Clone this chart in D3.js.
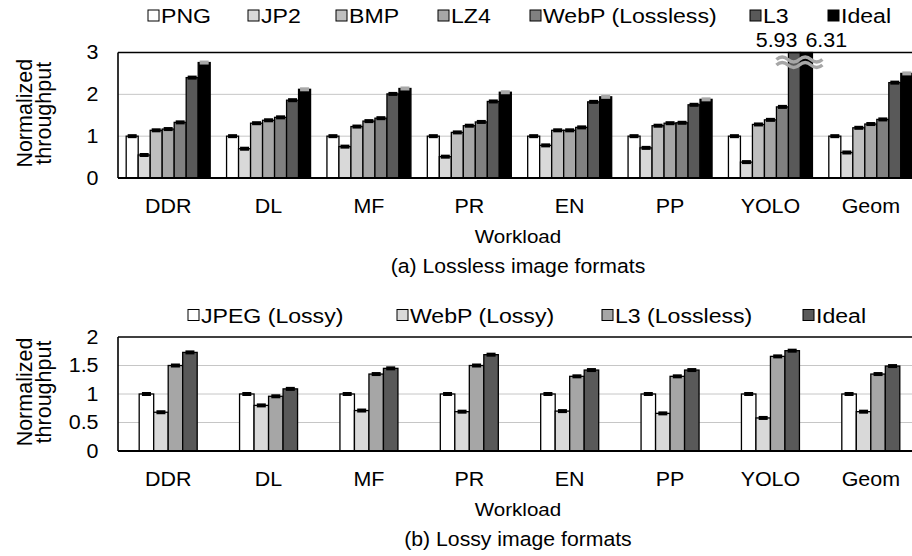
<!DOCTYPE html>
<html>
<head>
<meta charset="utf-8">
<script src="https://cdn.jsdelivr.net/npm/d3@7"></script>
<style>
  body { margin: 0; background: #fff; }
  text { font-family: 'Liberation Sans', Arial, sans-serif; fill: #000; }
</style>
</head>
<body>
<div id="chart"></div>
<script>
'use strict'

const W = 912
const H = 556
const STRETCH = 1.1 // the source figure is a bit wider than tall

// ---- data ----
const workloads = ['DDR', 'DL', 'MF', 'PR', 'EN', 'PP', 'YOLO', 'Geom']

const losslessNames = ['PNG', 'JP2', 'BMP', 'LZ4', 'WebP (Lossless)', 'L3', 'Ideal']
const pngValues = [1, 1, 1, 1, 1, 1, 1, 1]
const jp2Values = [0.55, 0.70, 0.75, 0.51, 0.78, 0.72, 0.38, 0.61]
const bmpValues = [1.14, 1.31, 1.23, 1.09, 1.14, 1.25, 1.28, 1.20]
const lz4Values = [1.17, 1.38, 1.36, 1.25, 1.14, 1.31, 1.39, 1.29]
const webpLosslessValues = [1.33, 1.45, 1.43, 1.34, 1.21, 1.32, 1.70, 1.40]
const l3Values = [2.40, 1.86, 2.01, 1.83, 1.82, 1.75, 5.93, 2.28]
const idealValues = [2.76, 2.12, 2.14, 2.05, 1.94, 1.88, 6.31, 2.50]
const losslessTicks = [0, 1, 2, 3]

const lossyNames = ['JPEG (Lossy)', 'WebP (Lossy)', 'L3 (Lossless)', 'Ideal']
const jpegValues = [1, 1, 1, 1, 1, 1, 1, 1]
const webpLossyValues = [0.68, 0.80, 0.71, 0.69, 0.70, 0.66, 0.58, 0.69]
const l3LosslessValues = [1.50, 0.96, 1.35, 1.50, 1.31, 1.31, 1.66, 1.35]
const idealLossyValues = [1.73, 1.09, 1.45, 1.69, 1.42, 1.42, 1.76, 1.49]
const lossyTicks = [0, 0.5, 1, 1.5, 2]

const losslessColors = ['#ffffff', '#d9d9d9', '#bfbfbf', '#a6a6a6', '#808080', '#595959', '#000000']
const lossyColors = ['#ffffff', '#d9d9d9', '#a6a6a6', '#595959']

const svg = d3.select('#chart')
  .append('svg')
  .attr('width', W)
  .attr('height', H)

function stretched (sel, x, y) {
  return sel.attr('transform', `translate(${x},${y}) scale(${STRETCH},1)`)
}

function drawPanel (p) {
  const left = 118
  const x0 = d3.scaleBand().domain(workloads).range([left, 921])
  const x1 = d3.scaleBand().domain(p.names).range([0, p.groupWidth])
  const y = d3.scaleLinear().domain([0, p.yMax]).range([p.bottom, p.top]).clamp(true)
  const g = svg.append('g')

  // gridlines
  g.selectAll('line.grid')
    .data(p.ticks.filter((t) => t > 0 && t < p.yMax))
    .join('line')
    .attr('x1', left)
    .attr('x2', W)
    .attr('y1', (d) => y(d))
    .attr('y2', (d) => y(d))
    .attr('stroke', '#c6c6c6')
    .attr('stroke-width', 1)

  const offset = (x0.bandwidth() - p.groupWidth) / 2
  const groups = g.selectAll('g.grp')
    .data(workloads)
    .join('g')
    .attr('transform', (d) => `translate(${x0(d) + offset},0)`)

  const rows = (w, i) => p.names.map((n, k) => ({ name: n, value: p.values[k][i], k: k, workload: w }))

  groups.selectAll('rect.bar')
    .data(rows)
    .join('rect')
    .attr('class', 'bar')
    .attr('x', (d) => x1(d.name))
    .attr('y', (d) => y(d.value))
    .attr('width', x1.bandwidth())
    .attr('height', (d) => p.bottom - y(d.value))
    .attr('fill', (d) => p.colors[d.k])
    .attr('stroke', '#000')
    .attr('stroke-width', 1.3)

  // small error caps on top of each bar (not on clipped ones)
  groups.selectAll('rect.cap')
    .data((w, i) => rows(w, i).filter((d) => d.value < p.yMax))
    .join('rect')
    .attr('class', 'cap')
    .attr('x', (d) => x1(d.name) + x1.bandwidth() / 2 - 4.5)
    .attr('y', (d) => y(d.value) - 2)
    .attr('width', 9)
    .attr('height', 4)
    .attr('fill', (d) => (p.lightCapLast && d.k === p.names.length - 1) ? '#a8a8a8' : '#000')

  // clipped bars: value labels + break marks
  const clipped = []
  workloads.forEach((w, i) => {
    p.names.forEach((n, k) => {
      if (p.values[k][i] > p.yMax) clipped.push({ workload: w, name: n, value: p.values[k][i] })
    })
  })
  if (clipped.length) {
    const first = clipped[0]
    const last = clipped[clipped.length - 1]
    const xs = x0(first.workload) + offset + x1(first.name) - 12
    const xe = x0(last.workload) + offset + x1(last.name) + x1.bandwidth() + 10
    const step = (xe - xs) / 4
    ;[p.top + 6, p.top + 11.5].forEach((yy) => {
      let d = `M${xs},${yy + 1}`
      for (let s = 0; s < 4; s++) {
        const dir = s % 2 === 0 ? -1 : 1
        d += ` q${step / 2},${dir * 5} ${step},0`
      }
      g.append('path')
        .attr('d', d)
        .attr('fill', 'none')
        .attr('stroke', '#a6a6a6')
        .attr('stroke-width', 3.4)
    })
    clipped.forEach((c, j) => {
      const bx = x0(c.workload) + offset + x1(c.name)
      const t = g.append('text')
        .attr('font-size', 19.5)
        .attr('text-anchor', j === 0 ? 'end' : 'start')
        .text(c.value.toFixed(2))
      stretched(t, j === 0 ? bx + x1.bandwidth() - 3 : bx + 5, p.top - 6)
    })
  }

  // frame: top, left, bottom
  g.append('line').attr('x1', left).attr('x2', W).attr('y1', p.top).attr('y2', p.top)
    .attr('stroke', '#000').attr('stroke-width', 1.6)
  g.append('line').attr('x1', left).attr('x2', left).attr('y1', p.top).attr('y2', p.bottom)
    .attr('stroke', '#000').attr('stroke-width', 1.6)
  g.append('line').attr('x1', left).attr('x2', W).attr('y1', p.bottom).attr('y2', p.bottom)
    .attr('stroke', '#000').attr('stroke-width', 2)

  // y axis
  g.append('g')
    .attr('transform', `translate(${left},0)`)
    .call(d3.axisLeft(y).tickValues(p.ticks).tickSize(0).tickPadding(17.7).tickFormat((d) => String(d)))
    .call((a) => a.select('.domain').remove())
    .call((a) => a.selectAll('text')
      .attr('font-size', 19.5)
      .attr('font-family', null)
      .attr('transform', `scale(${STRETCH},1)`))

  // x axis
  g.append('g')
    .attr('transform', `translate(0,${p.bottom})`)
    .call(d3.axisBottom(x0).tickSize(0).tickPadding(20.7))
    .call((a) => a.select('.domain').remove())
    .call((a) => a.selectAll('text')
      .attr('font-size', 19.5)
      .attr('font-family', null)
      .attr('transform', `scale(${STRETCH},1)`))

  const cx = 518
  stretched(g.append('text').attr('font-size', 18.7).attr('text-anchor', 'middle').text('Workload'),
    cx, p.bottom + 65.3)
  stretched(g.append('text').attr('font-size', 19.3).attr('text-anchor', 'middle').text(p.caption),
    cx, p.bottom + 94.7)

  // y title
  const ty = (p.top + p.bottom) / 2 - 2
  const title = g.append('text')
    .attr('font-size', 21.5)
    .attr('text-anchor', 'middle')
    .attr('transform', `translate(0,${ty}) rotate(-90)`)
  title.append('tspan').attr('x', 0).attr('y', 31.5).text('Normalized')
  title.append('tspan').attr('x', 0).attr('y', 51).text('throughput')

  // legend
  const leg = g.selectAll('g.leg')
    .data(p.names)
    .join('g')
    .attr('transform', (d, k) => `translate(${p.legendX[k]},${p.legendY})`)
  leg.append('rect')
    .attr('x', 0)
    .attr('y', -5.5)
    .attr('width', 11)
    .attr('height', 11)
    .attr('fill', (d, k) => p.colors[k])
    .attr('stroke', '#000')
    .attr('stroke-width', 1)
  leg.append('text')
    .attr('font-size', 21)
    .attr('transform', `translate(13,7.8) scale(${STRETCH},1)`)
    .text((d) => d)
}

drawPanel({
  names: losslessNames,
  values: [pngValues, jp2Values, bmpValues, lz4Values, webpLosslessValues, l3Values, idealValues],
  colors: losslessColors,
  ticks: losslessTicks,
  yMax: 3,
  top: 52.5,
  bottom: 178,
  groupWidth: 84,
  lightCapLast: true,
  caption: '(a) Lossless image formats',
  legendX: [148, 248, 336, 438, 530, 750, 828],
  legendY: 15.5
})

drawPanel({
  names: lossyNames,
  values: [jpegValues, webpLossyValues, l3LosslessValues, idealLossyValues],
  colors: lossyColors,
  ticks: lossyTicks,
  yMax: 2,
  top: 337,
  bottom: 451,
  groupWidth: 58,
  lightCapLast: false,
  caption: '(b) Lossy image formats',
  legendX: [188, 397, 602, 803],
  legendY: 315
})
</script>
</body>
</html>
